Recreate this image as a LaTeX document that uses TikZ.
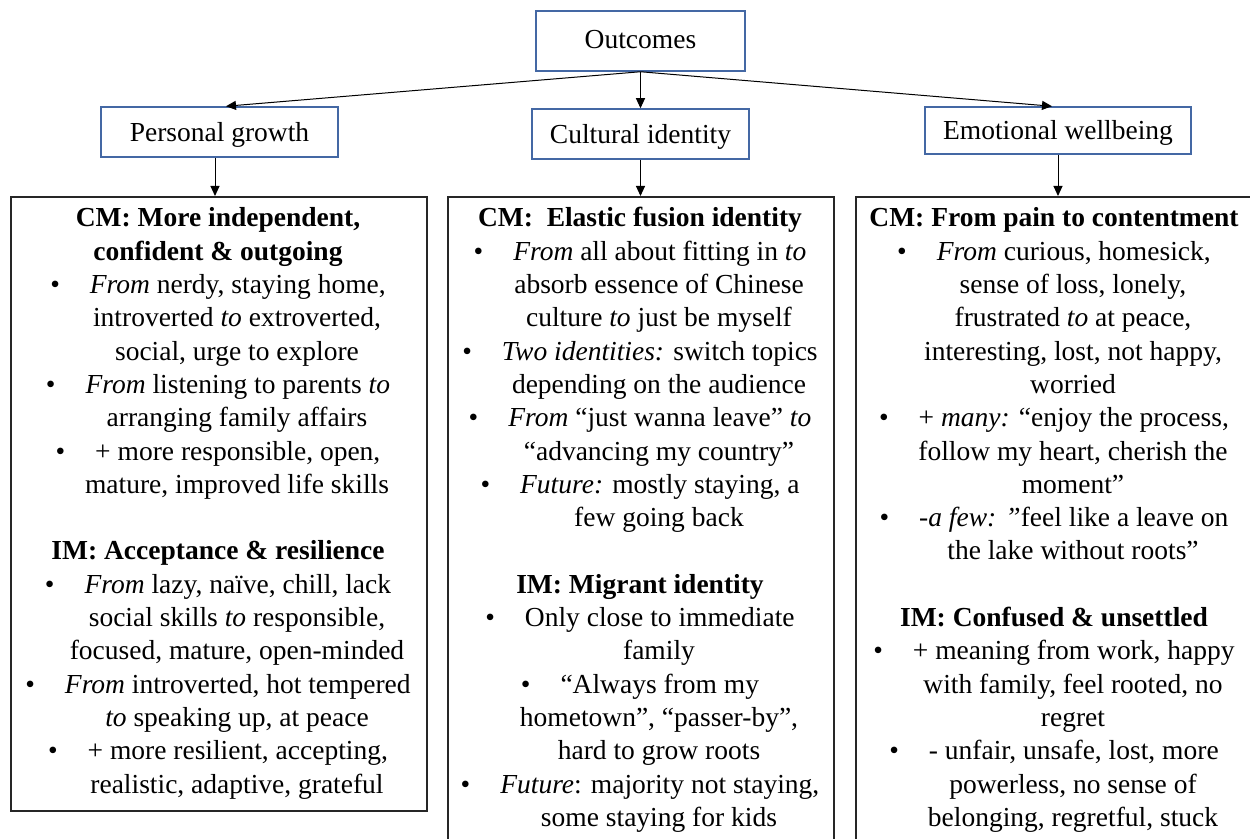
\documentclass[tikz,border=0pt]{standalone}
\usepackage{fontspec}
\setmainfont{Liberation Serif}
\usetikzlibrary{arrows.meta}
\definecolor{boxblue}{RGB}{68,104,164}
\newcommand{\myb}{•\hspace{15pt}}
\newcommand{\myc}{\hspace*{19pt}}
\begin{document}
\begin{tikzpicture}[x=0.5pt,y=-0.5pt,
  every node/.style={font=\fontsize{13.75pt}{16.65pt}\selectfont},
  headbox/.style={draw=boxblue, line width=0.75pt, inner sep=0pt, fill=white, text height=9.5pt, text depth=0pt},
  bigbox/.style={draw=black!85, line width=1pt, inner sep=0pt, anchor=north west},
  body/.style={align=center, anchor=north, inner sep=0pt},
  arr/.style={line width=0.5pt, -{Triangle[length=5pt,width=4.5pt]}}]
\useasboundingbox (0,0) rectangle (1250,839);

% header boxes
\node[headbox, minimum width=104.5pt, minimum height=30pt, text depth=1.5pt] (out) at (640.5,41) {Outcomes};
\node[headbox, minimum width=118.5pt, minimum height=25pt] (pg) at (219.5,132) {Personal growth};
\node[headbox, minimum width=108.5pt, minimum height=25pt] (ci) at (640.5,134) {Cultural identity};
\node[headbox, minimum width=133pt, minimum height=23.5pt] (ew) at (1058,130.5) {Emotional wellbeing};

% big boxes
\node[bigbox, minimum width=208pt, minimum height=307pt] (lbox) at (10,196) {};
\node[bigbox, minimum width=193pt, minimum height=330pt] (mbox) at (447,196) {};
\node[bigbox, minimum width=220pt, minimum height=330pt] (rbox) at (855,196) {};

% connectors
\draw[arr] (out.south) -- ([xshift=3.25pt]pg.north);
\draw[arr] (out.south) -- (ci.north);
\draw[arr] (out.south) -- ([xshift=-3pt]ew.north);
\draw[arr] (pg.south) ++(-2.25pt,0) coordinate (pga) -- (pga |- lbox.north);
\draw[arr] (ci.south) -- (ci.south |- mbox.north);
\draw[arr] (ew.south) -- (ew.south |- rbox.north);

% texts
\node[body] (ltext) at (218,203.2) {\strut\textbf{CM: More independent,}\\
\textbf{confident \& outgoing}\\
\myb\textit{From} nerdy, staying home,\\
\myc introverted \textit{to} extroverted,\\
\myc social, urge to explore\\
\myb\textit{From} listening to parents \textit{to}\\
\myc arranging family affairs\\
\myb + more responsible, open,\\
\myc mature, improved life skills\\[16.65pt]
\textbf{IM: Acceptance \& resilience}\\
\myb\textit{From} lazy, naïve, chill, lack\\
\myc social skills \textit{to} responsible,\\
\myc focused, mature, open-minded\\
\myb\textit{From} introverted, hot tempered\\
\myc\textit{to} speaking up, at peace\\
\myb + more resilient, accepting,\\
\myc realistic, adaptive, grateful};

\node[body] (mtext) at (640,203.2) {\strut\textbf{CM:\ \ Elastic fusion identity}\\
\myb\textit{From} all about fitting in \textit{to}\\
\myc absorb essence of Chinese\\
\myc culture \textit{to} just be myself\\
\myb\textit{Two identities:} switch topics\\
\myc depending on the audience\\
\myb\textit{From} “just wanna leave” \textit{to}\\
\myc “advancing my country”\\
\myb\textit{Future:} mostly staying, a\\
\myc few going back\\[16.65pt]
\textbf{IM: Migrant identity}\\
\myb Only close to immediate\\
\myc family\\
\myb “Always from my\\
\myc hometown”, “passer-by”,\\
\myc hard to grow roots\\
\myb\textit{Future}: majority not staying,\\
\myc some staying for kids};

\node[body] (rtext) at (1054,203.2) {\strut\textbf{CM: From pain to contentment}\\
\myb\textit{From} curious, homesick,\\
\myc sense of loss, lonely,\\
\myc frustrated \textit{to} at peace,\\
\myc interesting, lost, not happy,\\
\myc worried\\
\myb + \textit{many:} “enjoy the process,\\
\myc follow my heart, cherish the\\
\myc moment”\\
\myb -\textit{a few: ”}feel like a leave on\\
\myc the lake without roots”\\[16.65pt]
\textbf{IM: Confused \& unsettled}\\
\myb + meaning from work, happy\\
\myc with family, feel rooted, no\\
\myc regret\\
\myb - unfair, unsafe, lost, more\\
\myc powerless, no sense of\\
\myc belonging, regretful, stuck};
\end{tikzpicture}
\end{document}
